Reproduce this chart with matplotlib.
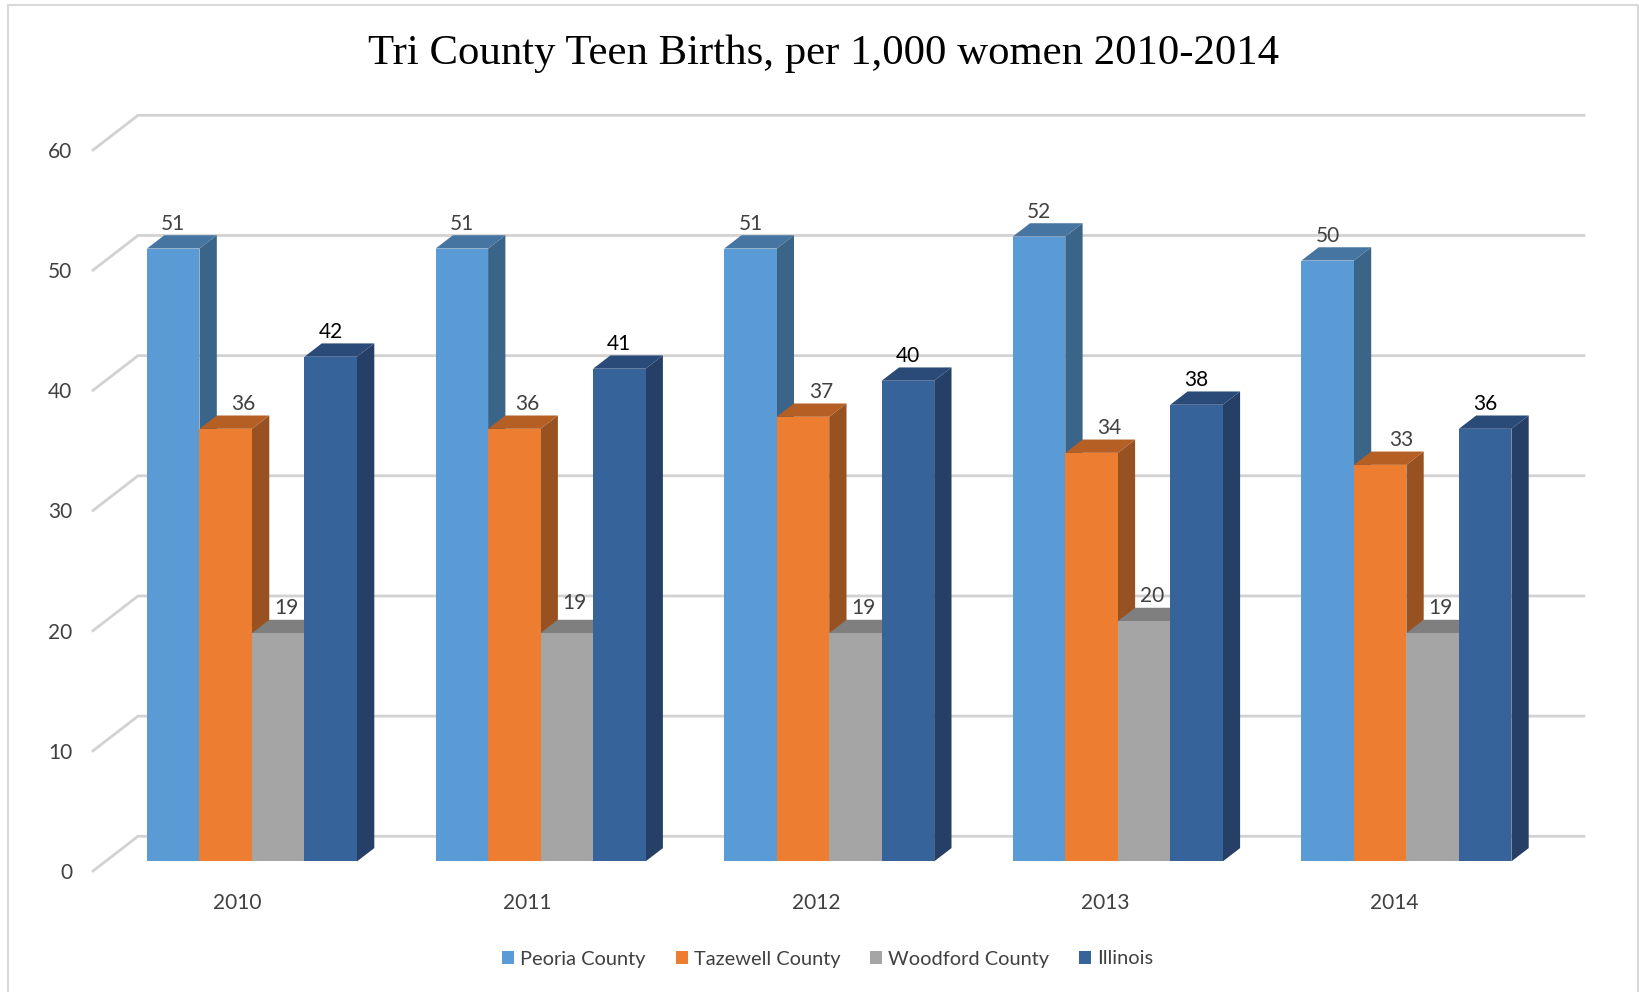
import matplotlib
matplotlib.use('Agg')
import matplotlib.pyplot as plt
from matplotlib.lines import Line2D

# Data
years = ['2010', '2011', '2012', '2013', '2014']
peoria = [51, 51, 51, 52, 50]
tazewell = [36, 36, 37, 34, 33]
woodford = [19, 19, 19, 20, 19]
illinois = [42, 41, 40, 38, 36]
y_ticks = [0, 10, 20, 30, 40, 50, 60]

names = ['Peoria County', 'Tazewell County', 'Woodford County', 'Illinois']
series = [peoria, tazewell, woodford, illinois]
front = ['#5B9BD5', '#ED7D31', '#A5A5A5', '#37639B']
side = ['#3A6488', '#985120', '#6A6A6A', '#253F66']
top = ['#4675A2', '#B55F25', '#7F7F7F', '#2A4A78']
label_col = ['#404040', '#404040', '#404040', '#000000']
label_dx = [0, 18, 8, 0]  # px, labels sit right of the bar centre for the low bars
# a few labels Excel placed off the usual spot: (group, series): (dx, dy) in px
nudge = {(1, 1): (-5, 0), (1, 2): (0, 5), (4, 1): (3, 0)}

W, H = 1640, 992
plt.rcParams['font.family'] = ['Lato', 'DejaVu Sans']
fig = plt.figure(figsize=(W / 100, H / 100), dpi=100, facecolor='white')

# axes = front plane of the fake 3D box
left, right, base, upper = 93, 1539, 871, 150
ax = fig.add_axes([left / W, (H - base) / H, (right - left) / W, (base - upper) / H])
ax.set_xlim(-0.5, 4.5)
ax.set_ylim(0, 60)
px_x = 5 / (right - left)
px_y = 60 / (base - upper)

# gridlines: slanted piece on the side wall, long piece on the back wall
wall_dx, wall_dy = 45 * px_x, 34.7 * px_y
for v in y_ticks:
    ax.plot([-0.5, -0.5 + wall_dx, 4.5 + wall_dx], [v, v + wall_dy, v + wall_dy],
            color='#D2D2D2', lw=2.0, clip_on=False, zorder=1, solid_joinstyle='miter')

# bars, drawn left to right so each one covers the side of the previous one
bar_w = 52.5 * px_x
step = 288.6 * px_x
shift = 14.4 * px_x
floor = 9.6 * px_y
depth_x, depth_y = 17.3 * px_x, 13.3 * px_y
for j, vals in enumerate(series):
    for i, v in enumerate(vals):
        x0 = i * step + shift + (j - 2) * bar_w
        x1 = x0 + bar_w
        y1 = v + floor
        ax.fill([x1, x1 + depth_x, x1 + depth_x, x1],
                [floor, floor + depth_y, y1 + depth_y, y1],
                color=side[j], lw=0, zorder=2 + j)
        ax.fill([x0, x0 + depth_x, x1 + depth_x, x1],
                [y1, y1 + depth_y, y1 + depth_y, y1],
                color=top[j], lw=0, zorder=2 + j)
        ax.bar(x0, v, bar_w, bottom=floor, align='edge', color=front[j], lw=0, zorder=2 + j)
        nx, ny = nudge.get((i, j), (0, 0))
        ax.annotate(str(v), (x0 + bar_w / 2, y1),
                    xytext=((label_dx[j] + nx) * 0.72, (25 + ny) * 0.72), textcoords='offset points',
                    ha='center', va='center', fontsize=15, color=label_col[j], zorder=10)

ax.set_xticks(range(len(years)))
ax.set_xticklabels(years)
ax.set_yticks(y_ticks)
ax.tick_params(axis='both', length=0, labelsize=15, labelcolor='#404040')
ax.tick_params(axis='y', pad=15)
ax.tick_params(axis='x', pad=16)
for s in ax.spines.values():
    s.set_visible(False)

fig.text(824 / W, 1 - 54 / H, 'Tri County Teen Births, per 1,000 women 2010-2014',
         family='Liberation Serif', fontsize=30.75, color='black', ha='center', va='center')

handles = [plt.Rectangle((0, 0), 1, 1, color=c, lw=0) for c in front]
fig.legend(handles, names, ncol=4, loc='center', bbox_to_anchor=(828 / W, 1 - 959 / H),
           frameon=False, fontsize=14.4, labelcolor='#404040', handlelength=0.6, handleheight=0.6,
           handletextpad=0.3, columnspacing=1.5, borderpad=0)

# chart frame, no bottom edge in the crop
fig.add_artist(Line2D([8 / W, 8 / W, 1638.5 / W, 1638.5 / W],
                      [0, 1 - 5 / H, 1 - 5 / H, 0], color='#D9D9D9', lw=1.5))

fig.savefig('out.png', dpi=100)
